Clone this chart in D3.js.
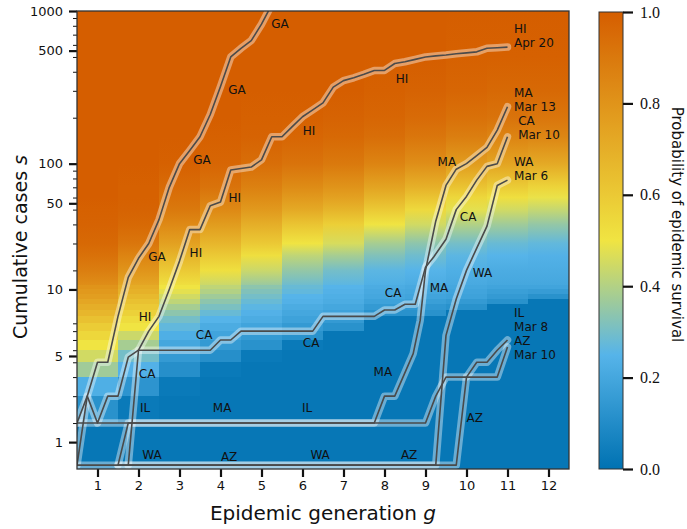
<!DOCTYPE html>
<html>
<head>
<meta charset="utf-8">
<script src="https://cdn.jsdelivr.net/npm/d3@7"></script>
<style>
  body { margin: 0; background: #fff; }
  svg text { fill: #111; }
</style>
</head>
<body>
<svg id="chart" width="687" height="529"></svg>
<script>
// ---- data ----------------------------------------------------------------
const generations = d3.range(1, 13);

// rows of the heat map (cumulative cases); rows below STEP_BELOW are drawn as blocks
const sLevels = [1, 2, 3, 4, 5, 6, 7, 8, 9, 10, 11, 12, 13, 14, 15,
                 16, 20, 25, 30, 40, 50, 60, 70, 100, 150, 200, 300, 500, 1000];
const STEP_BELOW = 16;

// probability of epidemic survival, one array per generation, one value per sLevel
const survivalG1  = [.02,.12,.23,.37,.45,.50,.55,.59,.63,.67,.70,.73,.76,.78,.80, .82,.88,.93,.96,.98,.99,1,1,1,1,1,1,1,1];
const survivalG2  = [.02,.03,.13,.24,.30,.38,.44,.50,.53,.57,.60,.63,.66,.69,.71, .73,.80,.86,.91,.96,.98,.99,.99,1,1,1,1,1,1];
const survivalG3  = [.02,.02,.03,.11,.15,.20,.23,.27,.30,.34,.38,.42,.45,.48,.50, .52,.60,.68,.75,.84,.90,.93,.95,.99,1,1,1,1,1];
const survivalG4  = [.02,.02,.02,.03,.11,.15,.19,.22,.25,.28,.31,.34,.37,.40,.42, .44,.52,.60,.67,.77,.84,.88,.92,.97,.99,1,1,1,1];
const survivalG5  = [.02,.02,.02,.02,.03,.12,.15,.19,.22,.24,.26,.28,.30,.32,.34, .36,.44,.52,.60,.70,.78,.83,.87,.94,.98,.99,1,1,1];
const survivalG6  = [.02,.02,.02,.02,.02,.03,.12,.15,.18,.20,.22,.24,.25,.27,.28, .29,.35,.42,.50,.62,.72,.78,.83,.92,.97,.99,1,1,1];
const survivalG7  = [.02,.02,.02,.02,.02,.02,.02,.12,.15,.18,.20,.22,.23,.24,.25, .26,.30,.38,.46,.58,.68,.75,.80,.90,.96,.98,1,1,1];
const survivalG8  = [.02,.02,.02,.02,.02,.02,.02,.02,.02,.12,.15,.18,.20,.21,.22, .23,.26,.32,.38,.50,.60,.68,.74,.86,.94,.97,.99,1,1];
const survivalG9  = [.02,.02,.02,.02,.02,.02,.02,.02,.02,.12,.14,.17,.19,.20,.21, .22,.25,.29,.34,.45,.54,.62,.69,.82,.91,.95,.98,1,1];
const survivalG10 = [.02,.02,.02,.02,.02,.02,.02,.02,.02,.02,.12,.15,.18,.19,.20, .21,.23,.26,.30,.40,.48,.55,.62,.77,.88,.93,.97,.99,1];
const survivalG11 = [.02,.02,.02,.02,.02,.02,.02,.02,.02,.02,.02,.12,.15,.17,.19, .20,.22,.25,.28,.37,.45,.52,.59,.74,.86,.92,.96,.99,1];
const survivalG12 = [.02,.02,.02,.02,.02,.02,.02,.02,.02,.02,.02,.02,.12,.16,.19, .20,.22,.24,.27,.35,.43,.49,.56,.72,.85,.91,.96,.99,1];
const survival = [survivalG1, survivalG2, survivalG3, survivalG4, survivalG5, survivalG6,
                  survivalG7, survivalG8, survivalG9, survivalG10, survivalG11, survivalG12];

// y axis: where the major labels sit (in case units) and what they say
const yTickPos    = [1.5, 5.5, 15, 55, 100, 550, 1000];
const yTickLabels = ["1", "5", "10", "50", "100", "500", "1000"];
const yMinorTicks = [2, 3, 4, 5, 6, 7, 8, 9, 20, 30, 40, 50, 60, 70, 80, 90,
                     200, 300, 400, 500, 600, 700, 800, 900];
const colorbarTicks = [0, 0.2, 0.4, 0.6, 0.8, 1.0];

// state trajectories: [generation, cumulative cases]
const trajGA = [[0.5,1],[0.75,3],[1,5],[1.25,5],[1.5,10],[1.75,18],[2,24],[2.25,30],[2.5,43],
                [2.75,70],[3,100],[3.25,122],[3.5,150],[3.75,210],[4,320],[4.25,500],[4.5,570],
                [4.75,640],[5,820],[5.25,1100]];
const trajHI = [[1.75,1],[2,6],[2.25,8],[2.5,10],[2.75,15],[3,23],[3.25,37],[3.5,37],[3.75,53],
                [4,56],[4.25,91],[4.5,93],[4.75,95],[5,106],[5.25,150],[5.5,150],[5.75,175],
                [6,203],[6.25,225],[6.5,250],[6.75,317],[7,350],[7.25,365],[7.5,385],[7.75,408],
                [8,408],[8.25,453],[8.5,465],[8.75,482],[9,500],[9.25,508],[9.5,515],[9.75,525],
                [10,532],[10.25,540],[10.5,570],[10.75,575],[11,580]];
const trajCA = [[0.5,2],[0.75,3],[1,2],[1.25,3],[1.5,3],[1.75,5.4],[2,6],[3.75,6],[4,7],[4.25,7],
                [4.5,8],[6.25,8],[6.5,10],[7.75,10],[8,11],[8.25,11],[8.5,12],[8.75,12],[9,21],
                [9.2,24.5],[9.5,32],[9.75,50],[10,61],[10.25,78],[10.5,96],[10.75,100],[11,150]];
const trajMA = [[1.5,1],[1.75,2],[7.75,2],[8,3],[8.25,3],[8.7,5.7],[8.87,9.4],[9,20],[9.25,42],
                [9.5,72],[9.75,92],[10,100],[10.25,113],[10.5,128],[10.75,166],[11,236]];
const trajIL = [[0.5,2],[9,2],[9.25,3],[9.5,4],[10,4],[10.25,5],[10.5,5],[10.75,6],[11,7]];
const trajWA = [[0.5,1],[9.25,1],[9.5,7.5],[9.75,13],[10,20],[10.25,28],[10.5,39],[10.75,72],[11,78]];
const trajAZ = [[1.5,1],[9.75,1],[10,4],[10.75,4],[11,6.3]];
const trajectories = [
  { state: "WA", points: trajWA }, { state: "AZ", points: trajAZ },
  { state: "IL", points: trajIL }, { state: "MA", points: trajMA },
  { state: "CA", points: trajCA }, { state: "HI", points: trajHI },
  { state: "GA", points: trajGA },
];

// inline labels along the trajectories: [state, generation, cases]
const lineLabels = [
  ["GA",2.45,24.5],["GA",3.55,105],["GA",4.4,303],["GA",5.45,820],
  ["HI",2.16,9.9],["HI",3.4,26],["HI",4.35,59.5],["HI",6.16,163],["HI",8.43,358],
  ["CA",2.21,4.2],["CA",3.6,7.5],["CA",6.21,6.7],["CA",8.21,14.2],["CA",10.04,44.7],
  ["MA",4.04,2.51],["MA",7.96,4.3],["MA",9.33,15.3],["MA",9.52,102],
  ["IL",2.16,2.51],["IL",6.11,2.51],
  ["WA",2.33,1.235],["WA",6.43,1.235],["WA",10.39,19.2],
  ["AZ",4.21,1.2],["AZ",8.6,1.235],["AZ",10.2,2.16],
];
// end-of-trajectory labels: state, date, generation and cases of the date line
const endLabels = [
  ["HI","Apr 20",11.16,616], ["MA","Mar 13",11.16,235], ["CA","Mar 10",11.26,154],
  ["WA","Mar 6",11.16,83],   ["IL","Mar 8",11.16,8.45], ["AZ","Mar 10",11.16,5.54],
];

// ---- layout --------------------------------------------------------------
const plot = { left: 77, right: 569, top: 11, bottom: 469 };
const cbar = { left: 599, width: 24, top: 12, bottom: 469 };
const LINE_FLOOR = 1.06; // keeps the s = 1 lines off the bottom spine, as in the figure
const SANS = '"DejaVu Sans", sans-serif';
const SERIF = '"Liberation Serif", "DejaVu Serif", serif';

const svg = d3.select("#chart");
const defs = svg.append("defs");

const x = d3.scaleLinear().domain([0.5, 12.5]).range([plot.left, plot.right]);
const y = d3.scaleLog().domain([1, 1000]).range([plot.bottom, plot.top]);
const color = d3.scaleLinear()
  .domain([0, 0.25, 0.5, 1])
  .range(["#0072B2", "#56B4E9", "#F0E442", "#D55E00"])
  .clamp(true);

// ---- heat map ------------------------------------------------------------
const span = y(1000) - y(1);
const offset = (s) => (y(s) - y(1)) / span;

generations.forEach((g, gi) => {
  const stops = [];
  sLevels.forEach((s, i) => {
    const c = color(survival[gi][i]);
    stops.push([offset(s), c]);
    if (s < STEP_BELOW) stops.push([offset(sLevels[i + 1]), c]);
  });
  defs.append("linearGradient")
    .attr("id", `gen${g}`)
    .attr("gradientUnits", "userSpaceOnUse")
    .attr("x1", 0).attr("x2", 0)
    .attr("y1", y(1)).attr("y2", y(1000))
    .selectAll("stop")
    .data(stops)
    .join("stop")
    .attr("offset", (d) => d[0])
    .attr("stop-color", (d) => d[1]);
});

svg.append("g")
  .selectAll("rect")
  .data(generations)
  .join("rect")
  .attr("x", (g) => x(g - 0.5))
  .attr("width", (g) => x(g + 0.5) - x(g - 0.5))
  .attr("y", y(1000))
  .attr("height", y(1) - y(1000))
  .attr("fill", (g) => `url(#gen${g})`)
  .attr("shape-rendering", "crispEdges");

// ---- trajectories --------------------------------------------------------
defs.append("clipPath").attr("id", "plotClip")
  .append("rect")
  .attr("x", plot.left).attr("y", plot.top)
  .attr("width", plot.right - plot.left).attr("height", plot.bottom - plot.top);

const line = d3.line()
  .x((d) => x(d[0]))
  .y((d) => y(Math.max(d[1], LINE_FLOOR)));

const lines = svg.append("g").attr("clip-path", "url(#plotClip)");
lines.selectAll("path.halo")
  .data(trajectories)
  .join("path")
  .attr("class", "halo")
  .attr("d", (d) => line(d.points))
  .attr("fill", "none")
  .attr("stroke", "#fff")
  .attr("stroke-opacity", 0.4)
  .attr("stroke-width", 7.5)
  .attr("stroke-linejoin", "round")
  .attr("stroke-linecap", "round");
lines.selectAll("path.core")
  .data(trajectories)
  .join("path")
  .attr("class", "core")
  .attr("d", (d) => line(d.points))
  .attr("fill", "none")
  .attr("stroke", "#4a4a4a")
  .attr("stroke-width", 1.6)
  .attr("stroke-linejoin", "round");

svg.append("g")
  .selectAll("text")
  .data(lineLabels)
  .join("text")
  .attr("x", (d) => x(d[1]))
  .attr("y", (d) => y(d[2]))
  .attr("text-anchor", "middle")
  .attr("dominant-baseline", "central")
  .style("font-family", SANS)
  .style("font-size", "12px")
  .text((d) => d[0]);

const ends = svg.append("g")
  .selectAll("text")
  .data(endLabels)
  .join("text")
  .style("font-family", SANS)
  .style("font-size", "12px")
  .attr("dominant-baseline", "central");
ends.append("tspan")
  .attr("x", (d) => x(d[2]))
  .attr("y", (d) => y(d[3]) - 14.5)
  .text((d) => d[0]);
ends.append("tspan")
  .attr("x", (d) => x(d[2]))
  .attr("y", (d) => y(d[3]))
  .text((d) => d[1]);

// ---- axes ----------------------------------------------------------------
function styleAxis(g, width, family, size) {
  g.attr("font-family", null).attr("font-size", null);
  g.select(".domain").remove();
  g.selectAll(".tick line").attr("stroke", "#111").attr("stroke-width", width);
  g.selectAll("text").style("font-family", family).style("font-size", size + "px").style("fill", "#111");
}

svg.append("g")
  .attr("transform", `translate(${plot.left},0)`)
  .call(d3.axisLeft(y).tickValues(yMinorTicks).tickSize(4).tickFormat(""))
  .call((g) => styleAxis(g, 1, SANS, 13));
svg.append("g")
  .attr("transform", `translate(${plot.left},0)`)
  .call(d3.axisLeft(y).tickValues(yTickPos).tickSize(8).tickPadding(6)
    .tickFormat((d, i) => yTickLabels[i]))
  .call((g) => styleAxis(g, 2.2, SANS, 13));

svg.append("g")
  .attr("transform", `translate(0,${plot.bottom})`)
  .call(d3.axisBottom(x).tickValues(generations).tickSize(8).tickPadding(4))
  .call((g) => styleAxis(g, 2.2, SANS, 13));

svg.append("rect")
  .attr("x", plot.left).attr("y", plot.top)
  .attr("width", plot.right - plot.left).attr("height", plot.bottom - plot.top)
  .attr("fill", "none").attr("stroke", "#333").attr("stroke-width", 1.3);

const xLabel = svg.append("text")
  .attr("x", x(6.5)).attr("y", 520)
  .attr("text-anchor", "middle")
  .style("font-family", SANS)
  .style("font-size", "20px");
xLabel.append("tspan").text("Epidemic generation ");
xLabel.append("tspan").style("font-style", "italic").text("g");

const yLabel = svg.append("text")
  .attr("transform", "translate(27,247) rotate(-90)")
  .attr("text-anchor", "middle")
  .style("font-family", SANS)
  .style("font-size", "19px");
yLabel.append("tspan").text("Cumulative cases ");
yLabel.append("tspan").style("font-style", "italic").text("s");

// ---- colour bar ----------------------------------------------------------
const cb = d3.scaleLinear().domain([0, 1]).range([cbar.bottom, cbar.top]);
defs.append("linearGradient")
  .attr("id", "cbarGrad")
  .attr("x1", 0).attr("x2", 0).attr("y1", 1).attr("y2", 0)
  .selectAll("stop")
  .data(d3.range(0, 1.0001, 0.05))
  .join("stop")
  .attr("offset", (d) => d)
  .attr("stop-color", (d) => color(d));

svg.append("rect")
  .attr("x", cbar.left).attr("y", cb(1))
  .attr("width", cbar.width).attr("height", cb(0) - cb(1))
  .attr("fill", "url(#cbarGrad)")
  .attr("stroke", "#333").attr("stroke-width", 1);

svg.append("g")
  .attr("transform", `translate(${cbar.left + cbar.width},0)`)
  .call(d3.axisRight(cb).tickValues(colorbarTicks).tickSize(10).tickPadding(7)
    .tickFormat(d3.format(".1f")))
  .call((g) => styleAxis(g, 2.2, SERIF, 16));

svg.append("text")
  .attr("transform", `translate(672,${cb(0.535)}) rotate(90)`)
  .attr("text-anchor", "middle")
  .style("font-family", SANS)
  .style("font-size", "15px")
  .text("Probability of epidemic survival");
</script>
</body>
</html>
